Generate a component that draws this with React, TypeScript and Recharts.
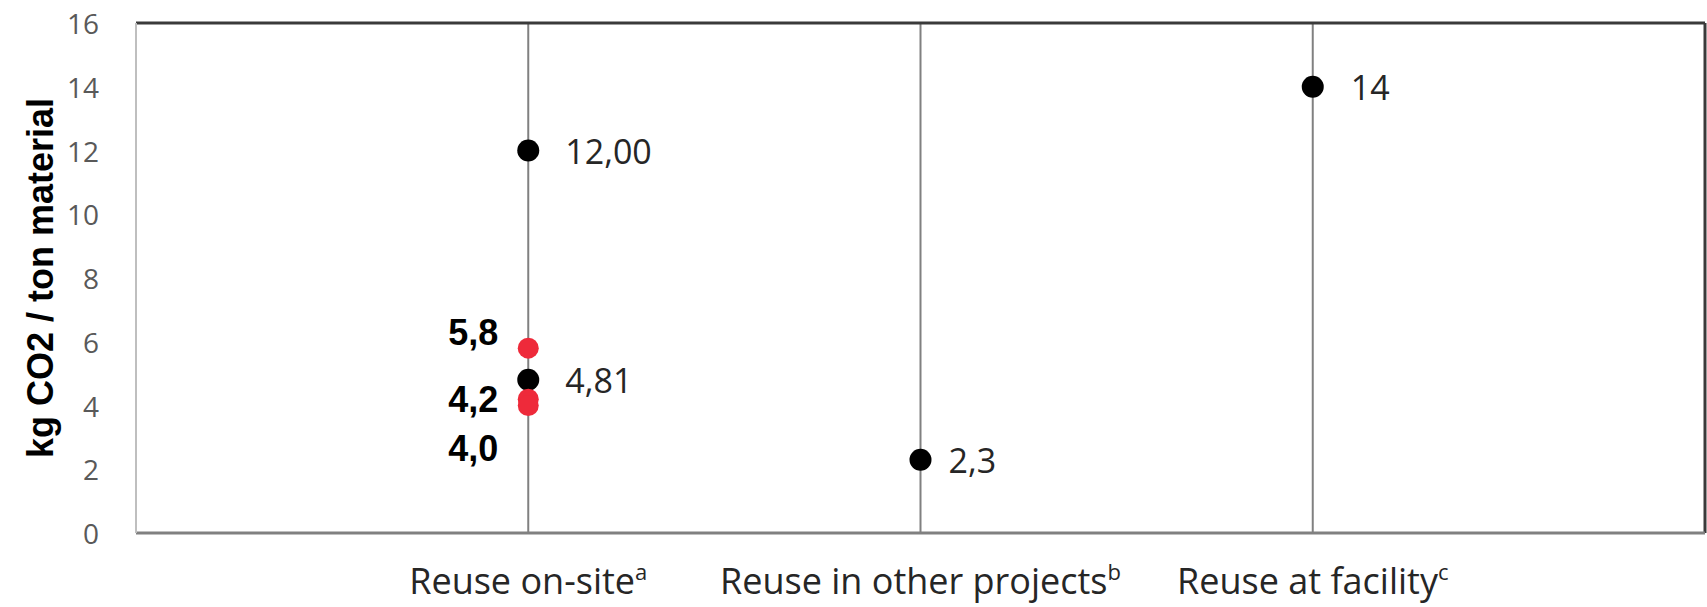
import React from "react";
import {
	ReferenceLine,
	Scatter,
	ScatterChart,
	XAxis,
	YAxis,
} from "recharts";

// categories along the x axis (position 1, 2, 3 on a 0..4 axis)
const categories = ["Reuse on-site", "Reuse in other projects", "Reuse at facility"];
const categoryNotes = ["a", "b", "c"];
const yTicks = [0, 2, 4, 6, 8, 10, 12, 14, 16];

// black points
const blackCategory = [1, 1, 2, 3];
const blackValues = [12, 4.81, 2.3, 14];
const blackLabels = ["12,00", "4,81", "2,3", "14"];

// red points (all on the first category)
const redCategory = [1, 1, 1];
const redValues = [5.8, 4.2, 4.0];
const redLabels = ["5,8", "4,2", "4,0"];

// label placement (styling only)
const blackLabelDx = [37, 37, 28, 38];
const redLabelDy = [-16, 0, 43];

const blackData = blackValues.map((v, i) => ({ x: blackCategory[i], y: v, i }));
const redData = redValues.map((v, i) => ({ x: redCategory[i], y: v, i }));

const FONT = "'Open Sans', sans-serif";
const BOLD = "'Liberation Sans', Arial, sans-serif";

const BlackDot = (props: any) => {
	const { cx, cy, payload } = props;
	return (
		<g>
			<circle cx={cx} cy={cy} r={11} fill="#000" />
			<text
				x={cx + blackLabelDx[payload.i]}
				y={cy}
				dominantBaseline="central"
				fontFamily={FONT}
				fontSize={34}
				fill="#262626"
			>
				{blackLabels[payload.i]}
			</text>
		</g>
	);
};

const RedDot = (props: any) => {
	const { cx, cy, payload } = props;
	return (
		<g>
			<circle cx={cx} cy={cy} r={10.5} fill="#ee2a3a" />
			<text
				x={cx - 30}
				y={cy + redLabelDy[payload.i]}
				textAnchor="end"
				dominantBaseline="central"
				fontFamily={BOLD}
				fontWeight="bold"
				fontSize={36}
				fill="#000"
			>
				{redLabels[payload.i]}
			</text>
		</g>
	);
};

const XTick = (props: any) => {
	const { x, y, payload } = props;
	const idx = payload.value - 1;
	return (
		<text x={x} y={y + 53} textAnchor="middle" fontFamily={FONT} fontSize={36} fill="#262626">
			<tspan>{categories[idx]}</tspan>
			<tspan dy={-14} fontSize={22}>
				{categoryNotes[idx]}
			</tspan>
		</text>
	);
};

const YTick = (props: any) => {
	const { x, y, payload } = props;
	return (
		<text x={x} y={y} textAnchor="end" dominantBaseline="central" fontFamily={FONT} fontSize={28} fill="#595959">
			{payload.value}
		</text>
	);
};

const YTitle = (props: any) => {
	const { viewBox } = props;
	const cx = 40;
	const cy = viewBox.y + viewBox.height / 2;
	return (
		<text
			x={cx}
			y={cy}
			transform={`rotate(-90, ${cx}, ${cy})`}
			textAnchor="middle"
			dominantBaseline="central"
			fontFamily={BOLD}
			fontWeight="bold"
			fontSize={36}
			fill="#000"
		>
			kg CO2 / ton material
		</text>
	);
};

export default function App() {
	return (
		<div style={{ width: 1707, height: 607, background: "#fff" }}>
			<style>{`body{margin:0}`}</style>
			<ScatterChart
				width={1707}
				height={607}
				margin={{ top: 23, right: 2, bottom: 0, left: 0 }}
			>
				<XAxis
					type="number"
					dataKey="x"
					domain={[0, 4]}
					ticks={[1, 2, 3]}
					height={74}
					tickLine={false}
					axisLine={{ stroke: "#808080", strokeWidth: 3 }}
					tick={<XTick />}
					allowDataOverflow
				/>
				<YAxis
					type="number"
					dataKey="y"
					domain={[0, 16]}
					ticks={yTicks}
					width={136}
					tickLine={false}
					tickSize={6}
					tickMargin={31}
					axisLine={{ stroke: "#bfbfbf", strokeWidth: 2 }}
					tick={<YTick />}
					label={<YTitle />}
				/>
				{[1, 2, 3].map((v) => (
					<ReferenceLine key={v} x={v} stroke="#808080" strokeWidth={2} />
				))}
				<ReferenceLine y={16} stroke="#3a3a3a" strokeWidth={3} />
				<ReferenceLine x={4} stroke="#3a3a3a" strokeWidth={3} />
				<Scatter data={blackData} shape={<BlackDot />} isAnimationActive={false} />
				<Scatter data={redData} shape={<RedDot />} isAnimationActive={false} />
			</ScatterChart>
		</div>
	);
}
